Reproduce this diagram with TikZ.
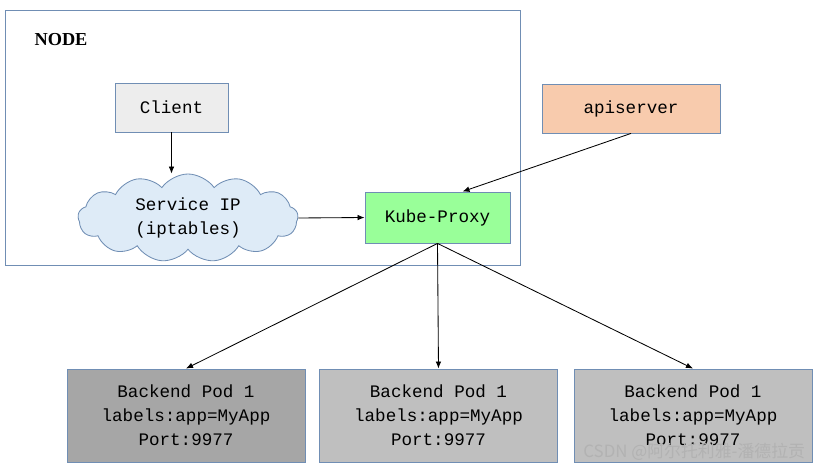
\documentclass[tikz,border=0pt]{standalone}
\usepackage{fontspec}
\setmainfont{Liberation Serif}
\setmonofont{Liberation Mono}
\newfontfamily\cjkfont{Noto Sans CJK SC}
\usetikzlibrary{arrows.meta, shapes.symbols}
\definecolor{boxline}{RGB}{112,142,180}
\definecolor{clientgray}{RGB}{237,237,237}
\definecolor{cloudblue}{RGB}{222,235,247}
\definecolor{proxygreen}{RGB}{153,255,153}
\definecolor{apiorange}{RGB}{248,203,173}
\colorlet{podgray1}{black!35}
\colorlet{podgray2}{black!25}

\begin{document}
\begin{tikzpicture}[x=0.025cm, y=-0.025cm,
    box/.style={draw=boxline, semithick, font=\ttfamily\fontsize{12.5}{17}\selectfont, align=center},
    podbox/.style={box, minimum width=5.95cm, minimum height=2.325cm},
    arr/.style={-{Latex[length=5pt, width=4pt]}, semithick}]

    \useasboundingbox (0, 0) rectangle (825, 473);

    % the node frame
    \draw[boxline, semithick] (5, 10) rectangle (520, 265);
    \node[font=\bfseries\fontsize{13}{15}\selectfont] (nodelabel) at (61, 40) {NODE};

    \node[box, fill=clientgray, minimum width=2.825cm, minimum height=1.225cm] (client) at (171.5, 107.5) {Client};
    \node[box, cloud, cloud puffs=13, cloud puff arc=110, aspect=2.5, fill=cloudblue,
          inner sep=0pt, minimum width=5.5cm, minimum height=2.2cm] (svcip) at (188, 218) {Service IP\\(iptables)};
    \node[box, fill=proxygreen, minimum width=3.625cm, minimum height=1.275cm] (kube) at (437.5, 217.5) {Kube-Proxy};
    \node[box, fill=apiorange, minimum width=4.45cm, minimum height=1.225cm] (api) at (631, 108.5) {apiserver};

    % backend pods
    \node[podbox, fill=podgray1] (pod1) at (186, 415.5) {Backend Pod 1\\labels:app=MyApp\\Port:9977};
    \node[podbox, fill=podgray2] (pod2) at (438.5, 415.5) {Backend Pod 1\\labels:app=MyApp\\Port:9977};
    \node[podbox, fill=podgray2] (pod3) at (693, 415.5) {Backend Pod 1\\labels:app=MyApp\\Port:9977};

    \draw[arr] (client.south) -- (client.south |- svcip.north);
    \draw[arr] (svcip.east) -- (kube.west);
    \draw[arr] (api.south) -- ([xshift=0.625cm]kube.north);
    \draw[arr] (kube.south) -- (pod1.north);
    \draw[arr] (kube.south) -- (pod2.north);
    \draw[arr] (kube.south) -- (pod3.north);

    \node[anchor=east, text=black!30, font=\cjkfont\fontsize{12}{14}\selectfont] (mark) at (810, 452) {CSDN @阿尔托利雅-潘德拉贡};

\end{tikzpicture}
\end{document}
